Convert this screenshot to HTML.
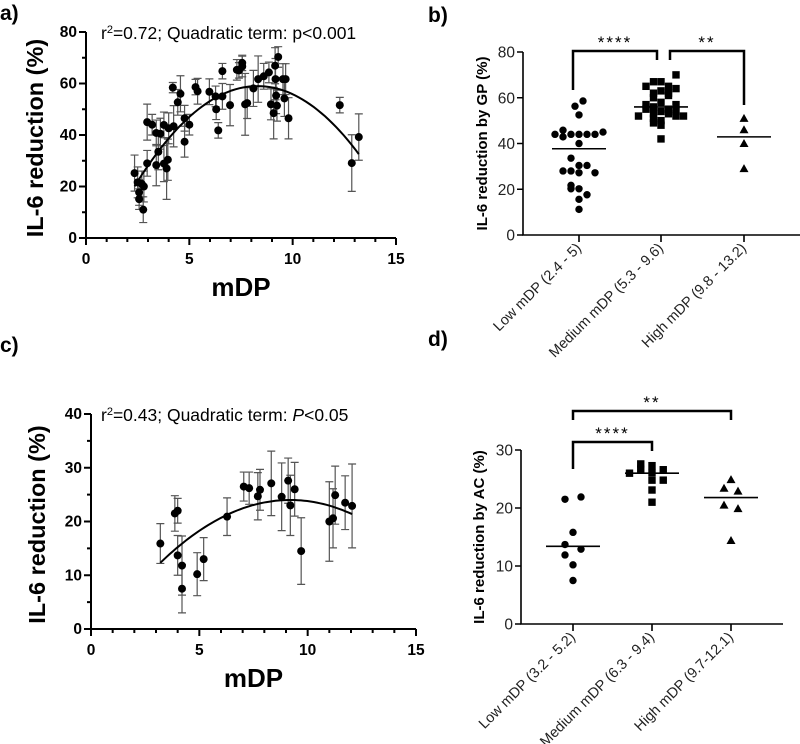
<!DOCTYPE html>
<html><head><meta charset="utf-8">
<style>
html,body{margin:0;padding:0;background:#fff;}
svg{display:block;font-family:"Liberation Sans",sans-serif;}
.b{font-weight:bold;}
</style></head>
<body>
<svg id="fig" width="800" height="744" viewBox="0 0 800 744" xmlns="http://www.w3.org/2000/svg">
<text x="0" y="20" font-size="21" class="b">a)</text>
<text x="428" y="22" font-size="21" class="b">b)</text>
<text x="0" y="352" font-size="21" class="b">c)</text>
<text x="428" y="346" font-size="21" class="b">d)</text>
</svg>
<script>
// ---- Panel a data ----
const aX=[2.35,2.5,2.57,2.57,2.7,2.77,2.8,2.96,2.96,3.2,3.4,3.4,3.5,3.6,3.77,3.77,3.9,3.96,4.0,4.2,4.24,4.44,4.57,4.77,4.77,5.0,5.3,5.4,5.97,6.27,6.3,6.4,6.6,6.6,6.97,7.3,7.4,7.56,7.56,7.7,7.8,8.1,8.33,8.6,8.85,8.95,9.08,9.15,9.17,9.2,9.24,9.3,9.53,9.6,9.66,9.8,12.28,12.86,13.2];
const aY=[25.2,21.6,17.7,15.1,21,11,20,29,45,44,40.8,28.3,33.5,40.5,43.9,28.9,27,30.4,42.6,58.4,43.4,52.7,56,46.5,37.4,44,58.6,57,56.8,55,50,41.8,55,64.8,51.6,65.3,65.1,68,66.6,51.9,52.4,58.1,61.7,62.8,64.3,51.9,48.5,66.9,61.7,55.3,51.4,70.3,61.7,54.2,61.7,46.5,51.6,29.1,39.2];
const aErr=[7,6,5,4,5,5,6,5,7,4,5,8,7,6,5,7,12,8,6,2,8,5,7,5,6,4,3,5,5,4,4,3,5,3,8,4,3,3,4,12,6,7,9,5,4,6,10,7,8,7,6,4,6,7,6,8,3,11,9];
const aFit=[-16.78,18.26,-1.1];
const aXTicks=[0,5,10,15];
const aYTicks=[0,20,40,60,80];
// ---- Panel c data ----
const cX=[3.2,3.87,4.0,4.0,4.2,4.2,4.9,5.2,6.28,7.05,7.3,7.7,7.8,8.32,8.8,9.1,9.2,9.4,9.7,11.0,11.17,11.27,11.73,12.05];
const cY=[15.9,21.5,22,13.7,11.8,7.5,10.2,13,20.9,26.5,26.2,24.7,25.9,27.1,24.6,27.6,23,26,14.5,20,20.6,24.9,23.5,22.9];
const cErr=[3.7,3.3,2.3,3.7,5.5,4.5,4,4,3.5,2.7,3,4.4,3.8,6,6.3,4.2,5.6,5,6.2,7.4,5.5,5.4,5,7.8];
const cFit=[-3.5,5.98,-0.325];
const cXTicks=[0,5,10,15];
const cYTicks=[0,10,20,30,40];
// ---- Panel b data ----
const bCats=["Low mDP (2.4 - 5)","Medium mDP (5.3 - 9.6)","High mDP (9.8 - 13.2)"];
const bLow=[58.6,56.3,52.5,45.8,44,45,44,44,44,44,42.9,40,33.6,28,28,30.4,30.4,27.2,27.2,21.7,20.2,20.2,17.6,15.6,11.2];
const bLowJ=[0.5,-0.5,0,-2,-3,3,2,1,0,-1,-2,0,-1,-2,-1,0,1,2,0,-1,-1,0,1,0,0];
const bMed=[70,67,67,65,65,64,63,62,62,61,60,58,57,57,56,55,55,54,54,53,53,52,52,52,51,50,49,48,42];
const bMedJ=[2,-1,0,-2,1,2,0,-1,1,1,-1,0,-2,2,-1,1,-2,2,0,-1,1,-3,3,2,-1,0,-1,0,0];
const bHigh=[51,46,40,29];
const bMeans=[37.7,56,42.9];
const bYTicks=[0,20,40,60,80];
// ---- Panel d data ----
const dCats=["Low mDP (3.2 - 5.2)","Medium mDP (6.3 - 9.4)","High mDP (9.7-12.1)"];
const dLow=[21.5,21.9,15.8,13.7,12.9,11.9,10.2,7.5];
const dLowJ=[-1,1,0,-1,1,-1,0,0];
const dMed=[26,26.7,27.6,27.3,26.1,26.6,24.8,24.8,23.1,21];
const dMedJ=[-3,-1.5,-1.5,0,0,1.5,1.5,0,0,0];
const dHigh=[24.9,23.4,22.9,20.5,19.9,14.4];
const dHighJ=[0,-1,1,-1,1,0];
const dMeans=[13.4,26,21.8];
const dYTicks=[0,10,20,30];

const NS="http://www.w3.org/2000/svg";
const svg=document.getElementById('fig');
function mk(tag,attrs,parent){const e=document.createElementNS(NS,tag);for(const k in attrs)e.setAttribute(k,attrs[k]);(parent||svg).appendChild(e);return e;}
function grp(name){const g=mk('g',{});return g;}

function scatterPanel(p){
  const sx=v=>p.x0+(v-p.xmin)*(p.x1-p.x0)/(p.xmax-p.xmin);
  const sy=v=>p.y0-(v)*(p.y0-p.y1)/(p.ymax);
  const g=grp(p.name);
  const eg=mk('g',{},g);
  
  
  for(let i=0;i<p.X.length;i++){
    const x=sx(p.X[i]),yt=sy(p.Y[i]+p.E[i]),yb=sy(Math.max(0,p.Y[i]-p.E[i]));
    const path=mk('path',{d:`M${x},${yt}V${yb}M${x-4},${yt}H${x+4}M${x-4},${yb}H${x+4}`,stroke:'#555','stroke-width':1.2,fill:'none'},eg);
    
    
  }
  for(let i=0;i<p.X.length;i++){
    const c=mk('circle',{cx:sx(p.X[i]),cy:sy(p.Y[i]),r:4,fill:'#000'},g);
    
    
  }
  const xmn=Math.min(...p.X),xmx=Math.max(...p.X);let d='';
  for(let k=0;k<=60;k++){const xv=xmn+(xmx-xmn)*k/60;const yv=p.F[0]+p.F[1]*xv+p.F[2]*xv*xv;d+=(k?'L':'M')+sx(xv).toFixed(1)+','+sy(yv).toFixed(1);}
  const fl=mk('path',{d:d,stroke:'#000','stroke-width':2,fill:'none'},g);
  
  
  const ax=mk('path',{d:`M${p.x0},${p.y1}V${p.y0}H${sx(p.xmax)}`,stroke:'#000','stroke-width':2,fill:'none'},g);
  
  
  let td='';
  for(let v=p.xmin;v<=p.xmax;v++){const x=sx(v);td+=`M${x},${p.y0}v${v%5===0?7:4}`;}
  for(let v=0;v<=p.ymax;v+=p.ystep/2){const y=sy(v);td+=`M${p.x0},${y}h${v%p.ystep===0?-7:-4}`;}
  const tk=mk('path',{d:td,stroke:'#000','stroke-width':2,fill:'none'},g);
  
  
  p.XT.forEach(v=>{const t=mk('text',{x:sx(v),y:p.y0+26,'font-size':15.5,'font-weight':'bold','text-anchor':'middle'},g);t.textContent=v;});
  p.YT.forEach(v=>{const t=mk('text',{x:p.x0-9,y:sy(v)+5,'font-size':15.5,'font-weight':'bold','text-anchor':'end'},g);t.textContent=v;});
  const xt=mk('text',{x:(sx(5)+sx(10))/2,y:p.y0+58,'font-size':26,'font-weight':'bold','text-anchor':'middle'},g);
  xt.textContent='mDP';
  
  
  const cy=(p.y0+p.y1)/2+3;
  const yt=mk('text',{x:p.ytx,y:cy,'font-size':23.5,'font-weight':'bold','text-anchor':'middle',transform:`rotate(-90 ${p.ytx} ${cy})`},g);
  yt.textContent='IL-6 reduction (%)';
  
  
  const an=mk('text',{x:p.ax,y:p.y1+7,'font-size':17.5},g);
  an.innerHTML=p.ann;
  
  
}

scatterPanel({name:'panel-a',X:aX,Y:aY,E:aErr,F:aFit,XT:aXTicks,YT:aYTicks,x0:86,x1:396,xmin:0,xmax:15,y0:238,y1:32,ymax:80,ystep:20,ytx:43,ax:101,
 ann:'r<tspan baseline-shift="super" font-size="11">2</tspan>=0.72; Quadratic term: p&lt;0.001'});
scatterPanel({name:'panel-c',X:cX,Y:cY,E:cErr,F:cFit,XT:cXTicks,YT:cYTicks,x0:91,x1:416,xmin:0,xmax:15,y0:629,y1:414,ymax:40,ystep:10,ytx:45,ax:101,
 ann:'r<tspan baseline-shift="super" font-size="11">2</tspan>=0.43;  Quadratic term: <tspan font-style="italic">P</tspan>&lt;0.05'});

function groupPanel(p){
  const sy=v=>p.y0-v*(p.y0-p.y1)/p.ymax;
  const g=grp(p.name);
  const ax=mk('path',{d:`M${p.x0},${p.y1}V${p.y0}H${p.xend}`,stroke:'#000','stroke-width':1.6,fill:'none'},g);
  
  
  let td='';
  p.YT.forEach(v=>{td+=`M${p.x0},${sy(v)}h-6`;});
  p.cx.forEach(x=>{td+=`M${x},${p.y0}v7`;});
  const tk=mk('path',{d:td,stroke:'#000','stroke-width':1.6,fill:'none'},g);
  
  
  p.YT.forEach(v=>{const t=mk('text',{x:p.x0-8,y:sy(v)+5.5,'font-size':15.5,'text-anchor':'end',fill:'#222'},g);t.textContent=v;});
  p.cats.forEach((c,i)=>{const x=p.cx[i]+3,y=p.y0+14;const t=mk('text',{x:x,y:y,'font-size':14.5,'text-anchor':'end',fill:'#222',transform:`rotate(-45 ${x} ${y})`},g);t.textContent=c;});
  const cy=(p.y0+p.y1)/2;
  const yt=mk('text',{x:p.ytx,y:cy,'font-size':15,'font-weight':'bold','text-anchor':'middle',transform:`rotate(-90 ${p.ytx} ${cy})`},g);
  yt.textContent=p.ytitle;
  
  
  p.low.forEach((v,i)=>{const c=mk('circle',{cx:p.cx[0]+p.lowJ[i]*8,cy:sy(v),r:3.7,fill:'#000'},g);});
  p.med.forEach((v,i)=>{const x=p.cx[1]+p.medJ[i]*7.5,y=sy(v);const r=mk('rect',{x:x-3.7,y:y-3.7,width:7.4,height:7.4,fill:'#000'},g);});
  p.high.forEach((v,i)=>{const x=p.cx[2]+(p.highJ?p.highJ[i]*7:0),y=sy(v);const t=mk('polygon',{points:`${x},${y-4.5} ${x-4.5},${y+3.5} ${x+4.5},${y+3.5}`,fill:'#000'},g);});
  p.means.forEach((v,i)=>{const l=mk('line',{x1:p.cx[i]-27,x2:p.cx[i]+27,y1:sy(v),y2:sy(v),stroke:'#000','stroke-width':1.6},g);});
  p.br.forEach(b=>{
    const pa=mk('path',{d:`M${b.xa},${b.ya}V${b.top}H${b.xb}V${b.yb}`,stroke:'#000','stroke-width':2.5,fill:'none'},g);
    
    
    const t=mk('text',{x:(b.xa+b.xb)/2,y:b.top-3,'font-size':17,'text-anchor':'middle','letter-spacing':'2'},g);
    t.textContent=b.s;
    
    
  });
}
groupPanel({name:'panel-b',cats:bCats,low:bLow,lowJ:bLowJ,med:bMed,medJ:bMedJ,high:bHigh,means:bMeans,YT:bYTicks,
 x0:523,xend:800,y0:235,y1:52,ymax:80,cx:[579,661,744],ytx:487,ytitle:'IL-6 reduction by GP (%)',
 br:[{xa:573,xb:657,top:51,ya:90,yb:60,s:'****'},{xa:670,xb:744,top:51,ya:60,yb:105,s:'**'}]});
groupPanel({name:'panel-d',cats:dCats,low:dLow,lowJ:dLowJ,med:dMed,medJ:dMedJ,high:dHigh,highJ:dHighJ,means:dMeans,YT:dYTicks,
 x0:521,xend:783,y0:624,y1:450,ymax:30,cx:[573,652,731],ytx:484,ytitle:'IL-6 reduction by AC (%)',
 br:[{xa:573,xb:731,top:411,ya:420,yb:420,s:'**'},{xa:573,xb:652,top:442,ya:469,yb:451,s:'****'}]});
</script>
</body></html>
